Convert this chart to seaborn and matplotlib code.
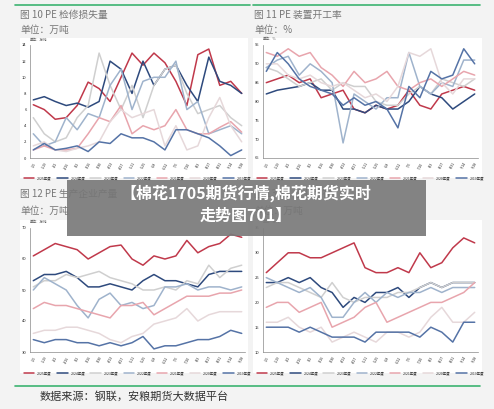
import numpy as np
import pandas as pd
import seaborn as sns
import matplotlib.pyplot as plt

sns.set_style('white')
plt.rcParams['font.family'] = ['Noto Sans CJK SC', 'DejaVu Sans']

years = ['2025年度', '2024年度', '2023年度', '2022年度', '2021年度', '2020年度', '2019年度']
colors = ['#c0394b', '#2e4a7d', '#cfcfcf', '#9fb3cc', '#e8a5ad', '#e6d8da', '#5573a6']
dates = ['1/5', '1/19', '2/2', '2/16', '3/2', '3/16', '3/30', '4/13', '4/27', '5/11',
         '5/25', '6/8', '6/22', '7/6', '7/20', '8/3', '8/17', '8/31', '9/14', '9/28']

# 图10 检修损失量
p1 = [[6.6,6.0,4.8,5.0,6.5,9.4,8.6,7.0,10.0,13.0,11.5,13.0,11.8,9.5,6.5,12.8,13.5,9.0,9.5,8.0],
      [7.2,7.6,7.0,6.5,6.8,6.3,7.0,12.0,11.0,8.0,12.0,9.0,11.0,11.5,9.0,7.0,12.5,9.5,9.0,8.0],
      [5.0,3.0,2.0,2.5,5.0,6.5,13.0,9.0,6.0,9.0,5.0,9.0,11.0,11.5,8.0,5.5,6.0,6.5,5.0,4.0],
      [3.0,1.5,2.0,5.0,3.5,5.5,5.0,9.0,11.0,6.0,9.5,10.0,10.0,12.0,6.0,7.0,3.0,3.5,4.0,3.0],
      [1.0,1.5,1.0,1.0,1.2,3.0,5.0,4.5,6.5,3.0,4.0,3.5,4.0,6.0,3.5,3.0,3.0,3.8,4.5,3.2],
      [1.5,2.0,1.0,0.8,1.2,1.5,2.0,4.5,6.0,5.0,5.5,6.0,1.5,4.0,1.0,1.5,5.0,7.5,4.0,2.0],
      [1.0,1.8,1.0,1.2,1.5,0.8,2.0,1.8,3.0,2.5,2.5,2.0,1.0,3.5,3.5,3.0,2.5,1.5,0.3,1.0]]
# 图11 开工率
p2 = [[85,86,87,85,86,81,82,83,78,77,79,78,79,83,79,78,82,83,84,83],
      [82,83,83.5,84,85,83,83,78,78,77,79,78,78,80,84,82,81,78,80,82],
      [89,88,86,84,85,86,83,85,84,84,80,79,79,82,84,82,86,85,84,86],
      [89,91,92,87,90,88,85,69,82,80,78,81,81,93,84,82,85,84,91,91],
      [93,92,94,92,93,89,87,84,88,85,86,88,84,83,85,86,84,86,88,87],
      [90,90,87,86,87,85,84,85,83,81,82,80,84,93,92,94,85,82,86,86],
      [88,93,90,86,84,83,82,79,81,79,80,78,73,84,81,88,86,87,94,90]]
# 图12 生产
p3 = [[61,63,65,64,63,60,62,64,64.5,60,58,61,60,61,66,62,64,65,68,67],
      [53,55,55,56,54,51,51,52,51,50,53,55,53,53,52,51,55,56,56,56],
      [51,53,53,55,54,55,56,54,53,52,50,50,51,50,53,52,58,54,57,58],
      [50,54,52,50,45,41,47,49,45,46,44,45,51,51,52,50,51,51,50,51],
      [44,46,45,45,44,43,42,41,45,45,46,42,44,46,48,48,48,49,49,50],
      [36,37,37,38,38,37,36,34,33,35,36,39,40,41,44,40,42,43,43,43],
      [34,33,34,34,33,33,32,33,32,33,35,31,32,32,33,34,34,35,37,36]]
# 图13
p4 = [[26,28,30,30,29,29,30,31,32,27,26,26,27,26,30,27,28,31,33,32],
      [24,24,25,24,25,23,22,19,21,20,22,22,23,21,23,24,23,24,24,24],
      [23,24,24,23,22,21,24,21,20,21,21,21,22,22,23,24,23,24,24,24],
      [25,24,23,22,23,21,17,17,20,22,20,22,21,22,22,23,22,23,23,23],
      [19,20,20,18,19,20,15,16,17,19,20,16,17,18,19,20,20,21,22,24],
      [16,16,17,15,14,15,12,13,14,13,12,14,14,13,14,17,19,16,16,18],
      [15,15,15,14,15,14,13,13,13,12,14,14,14,14,13,15,14,12,16,16]]

W, H = 494, 409
fig = plt.figure(figsize=(W / 100, H / 100), dpi=100)
fig.patch.set_facecolor('#f3f3f3')

def box(x0, y0, x1, y1):
    return [x0 / W, 1 - y1 / H, (x1 - x0) / W, (y1 - y0) / H]

panels = [
    (p1, (0, 14, 2), '单位：万吨', box(20, 38, 248, 178), box(30, 45, 245, 158)),
    (p2, (65, 95, 5), '单位：%', box(253, 38, 482, 178), box(263, 45, 478, 158)),
    (p3, (30, 70, 10), '单位：万吨', box(20, 220, 248, 373), box(30, 228, 245, 352)),
    (p4, (10, 35, 5), '单位：万吨', box(253, 220, 482, 373), box(263, 228, 478, 352)),
]

for data, (lo, hi, step), unit, bg, pos in panels:
    bgax = fig.add_axes(bg)
    bgax.set_facecolor('white')
    bgax.set_xticks([]); bgax.set_yticks([])
    for s in bgax.spines.values():
        s.set_visible(False)
    ax = fig.add_axes(pos)
    df = pd.DataFrame({'x': np.tile(np.arange(len(dates)), len(years)),
                       'v': np.concatenate(data),
                       'year': np.repeat(years, len(dates))})
    sns.lineplot(data=df, x='x', y='v', hue='year', hue_order=years, palette=colors,
                 linewidth=1.1, ax=ax, legend=False)
    ax.set_ylim(lo, hi)
    ax.set_yticks(np.arange(lo, hi + 0.1, step))
    ax.set_xlim(-0.3, len(dates) - 0.7)
    ax.set_xticks(range(len(dates)))
    ax.set_xticklabels(dates, rotation=60, fontsize=2.5)
    ax.tick_params(axis='y', labelsize=3, length=1.5, pad=1)
    ax.tick_params(axis='x', length=1.5, pad=1)
    ax.set_xlabel(''); ax.set_ylabel('')
    ax.set_facecolor('white')
    for s in ['top', 'right']:
        ax.spines[s].set_visible(False)
    for s in ['left', 'bottom']:
        ax.spines[s].set_color('#888888'); ax.spines[s].set_linewidth(0.5)
    ax.text(0, 1.04, unit, transform=ax.transAxes, fontsize=2.5, color='#555555')
    handles = [plt.Line2D([], [], color=c, lw=1.1) for c in colors]
    ax.legend(handles, years, loc='upper center', bbox_to_anchor=(0.5, -0.13), ncol=7,
              fontsize=2.5, frameon=False, handlelength=3, columnspacing=1.5)

def ftext(x, y, s, **kw):
    fig.text(x / W, 1 - y / H, s, **kw)

ftext(20, 15, '图 10 PE 检修损失量', fontsize=7, color='#777777', va='center')
ftext(20, 30, '单位：万吨', fontsize=7, color='#777777', va='center')
ftext(254, 15, '图 11 PE 装置开工率', fontsize=7, color='#777777', va='center')
ftext(254, 30, '单位：%', fontsize=7, color='#777777', va='center')
ftext(20, 194, '图 12 PE 生产企业产量', fontsize=7, color='#777777', va='center')
ftext(20, 211, '单位：万吨', fontsize=7, color='#777777', va='center')
ftext(254, 194, '图 13 PE 企业库存', fontsize=7, color='#777777', va='center')
ftext(254, 211, '单位：万吨', fontsize=7, color='#777777', va='center')
ftext(40, 396, '数据来源：钢联，安粮期货大数据平台', fontsize=8, color='#333333', va='center')

fig.add_artist(plt.Line2D([15 / W, 250 / W], [1 - 5 / H] * 2, color='#3cb371', lw=1.2))
fig.add_artist(plt.Line2D([253 / W, 480 / W], [1 - 5 / H] * 2, color='#3cb371', lw=1.2))
fig.add_artist(plt.Line2D([15 / W, 480 / W], [1 - 386 / H] * 2, color='#3cb371', lw=1.2))

fig.add_artist(plt.Rectangle((67 / W, 1 - 236 / H), 359 / W, 56 / H, transform=fig.transFigure,
                             facecolor='#7a7a7a', alpha=0.92, edgecolor='none'))
ftext(246, 193, '【棉花1705期货行情,棉花期货实时', fontsize=11.5, color='white',
      fontweight='bold', ha='center', va='center')
ftext(246, 216, '走势图701】', fontsize=11.5, color='white',
      fontweight='bold', ha='center', va='center')

fig.savefig('out.png', dpi=100, facecolor=fig.get_facecolor())
